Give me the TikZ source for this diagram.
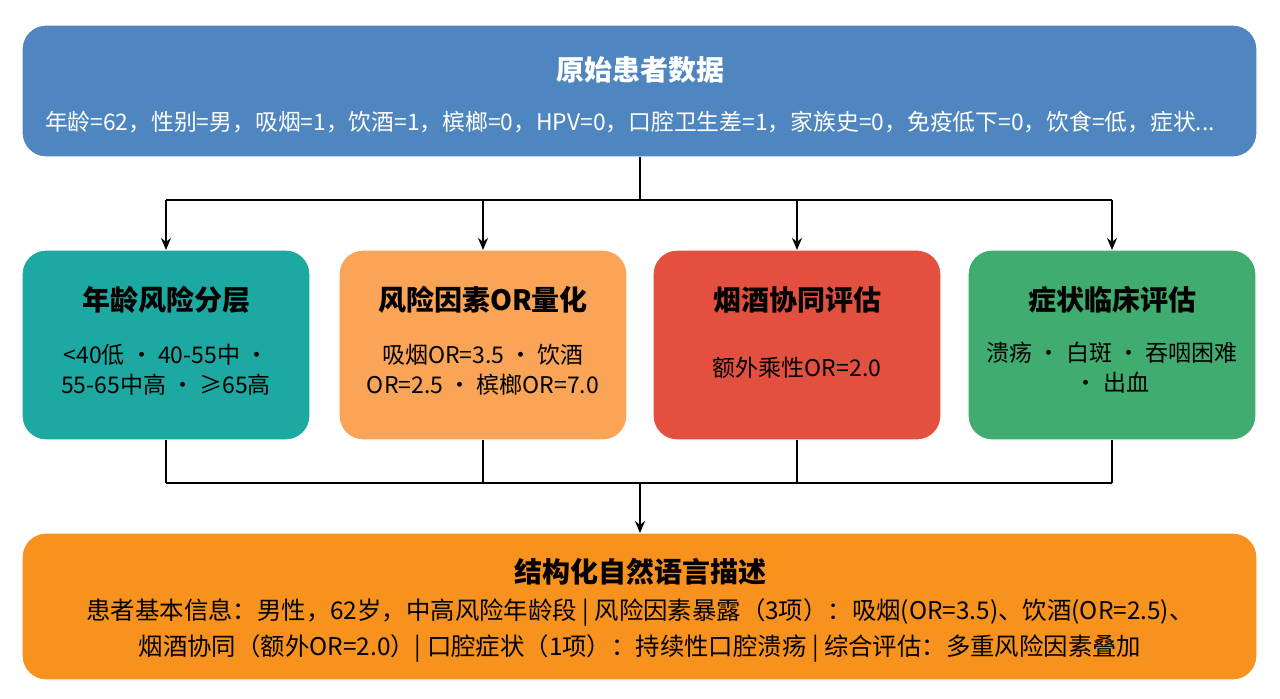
\documentclass[tikz,border=0pt]{standalone}
\usepackage{fontspec}
\setmainfont{Noto Sans CJK SC}
\usetikzlibrary{arrows.meta}
\definecolor{cblue}{HTML}{4F86BF}
\definecolor{cteal}{HTML}{1EA8A2}
\definecolor{corg}{HTML}{F9A456}
\definecolor{cred}{HTML}{E35040}
\definecolor{cgrn}{HTML}{40AC70}
\definecolor{cbot}{HTML}{F7921E}
\begin{document}
\begin{tikzpicture}[x=0.5pt,y=-0.5pt,
 box/.style={rounded corners=12pt,line width=0.6pt,draw=white},
 ttl/.style={font=\fontsize{14}{16}\selectfont\bfseries},
 txt/.style={font=\fontsize{11.5}{15}\selectfont,align=center},
 con/.style={line width=0.9pt},
 arr/.style={con,-{Stealth[length=6pt,width=5pt]}}]
\useasboundingbox (0,0) rectangle (1280,698);
\fill[white] (0,0) rectangle (1280,698);
\filldraw[box,fill=cblue] (22,25) rectangle (1257,157);
\node[ttl,text=white] (t) at (640,70) {原始患者数据};
\node[txt,text=white,font=\fontsize{11.4}{12}\selectfont] (tb) at (630,122) {年龄=62，性别=男，吸烟=1，饮酒=1，槟榔=0，HPV=0，口腔卫生差=1，家族史=0，免疫低下=0，饮食=低，症状...};
\coordinate (top) at (640,157);
\coordinate (sp) at (640,200);
\foreach \n/\x/\c in {a/166/cteal,b/483/corg,c/797/cred,d/1112/cgrn}{
 \filldraw[box,fill=\c] (\x-144,250) rectangle (\x+144,440);
 \coordinate (\n) at (\x,250);
 \coordinate (\n b) at (\x,440);
}
\node[ttl] at (166,300) {年龄风险分层};
\node[txt] at (166,370) {<40低 · 40-55中 ·\\55-65中高 · ≥65高};
\node[ttl] at (483,300) {风险因素OR量化};
\node[txt] at (483,370) {吸烟OR=3.5 · 饮酒\\OR=2.5 · 槟榔OR=7.0};
\node[ttl] at (797,300) {烟酒协同评估};
\node[txt] at (797,368) {额外乘性OR=2.0};
\node[ttl] at (1112,300) {症状临床评估};
\node[txt] at (1112,368) {溃疡 · 白斑 · 吞咽困难\\· 出血};
\filldraw[box,fill=cbot] (22,533) rectangle (1257,680);
\coordinate (bot) at (640,533);
\coordinate (jn) at (640,483);
\node[ttl] at (640,572) {结构化自然语言描述};
\node[txt,font=\fontsize{12.2}{18}\selectfont] at (640,630) {患者基本信息：男性，62岁，中高风险年龄段 | 风险因素暴露（3项）：吸烟(OR=3.5)、饮酒(OR=2.5)、\\烟酒协同（额外OR=2.0）| 口腔症状（1项）：持续性口腔溃疡 | 综合评估：多重风险因素叠加};
\draw[con] (top) -- (sp);
\draw[con] (a |- sp) -- (d |- sp);
\foreach \n in {a,b,c,d}{\draw[arr] (\n |- sp) -- (\n);}
\foreach \n in {a,b,c,d}{\draw[con] (\n b) -- (\n |- jn);}
\draw[con] (a |- jn) -- (d |- jn);
\draw[arr] (jn) -- (bot);
\end{tikzpicture}
\end{document}
